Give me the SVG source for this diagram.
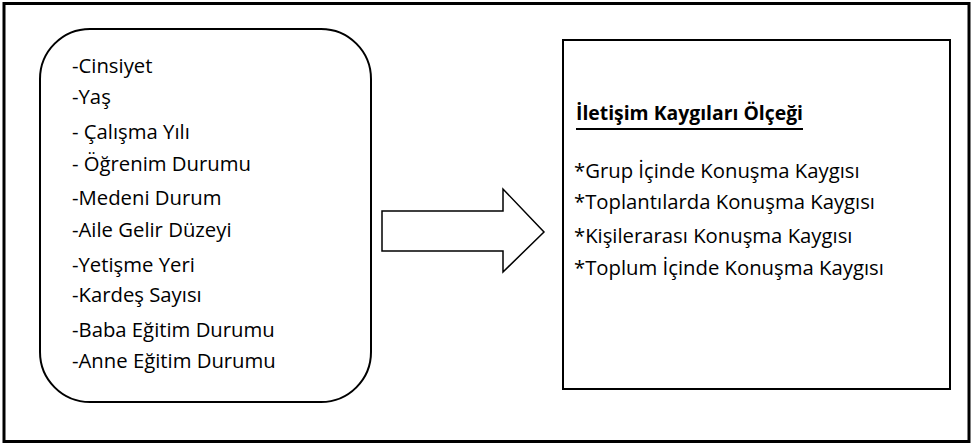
<svg xmlns="http://www.w3.org/2000/svg" width="973" height="446" viewBox="0 0 973 446">
<style>
.t{font-family:"Open Sans","Noto Sans","Liberation Sans",sans-serif;font-size:20.3px;fill:#000}
.b{font-weight:bold}
.box{fill:#fff;stroke:#000;stroke-width:2}
</style>
<rect x="0" y="0" width="973" height="446" fill="#fff"/>
<rect x="4" y="3.5" width="965" height="438" fill="none" stroke="#000" stroke-width="3"/>
<g id="demographics">
<rect class="box" x="40" y="29" width="331" height="373" rx="50" ry="50"/>
<text class="t" x="72" y="73">-Cinsiyet</text>
<text class="t" x="72" y="104">-Yaş</text>
<text class="t" x="72" y="139">- Çalışma Yılı</text>
<text class="t" x="72" y="171">- Öğrenim Durumu</text>
<text class="t" x="72" y="205">-Medeni Durum</text>
<text class="t" x="72" y="237">-Aile Gelir Düzeyi</text>
<text class="t" x="72" y="272">-Yetişme Yeri</text>
<text class="t" x="72" y="302">-Kardeş Sayısı</text>
<text class="t" x="72" y="337">-Baba Eğitim Durumu</text>
<text class="t" x="72" y="368">-Anne Eğitim Durumu</text>
</g>
<g id="connectors">
<polygon points="382,211 503,211 503,189 544,232 503,272 503,251 382,251" fill="#fff" stroke="#000" stroke-width="1.5" stroke-linejoin="miter"/>
</g>
<g id="scale">
<rect class="box" x="563" y="40" width="387" height="349"/>
<text class="t b" x="576" y="120" textLength="227" lengthAdjust="spacingAndGlyphs">İletişim Kaygıları Ölçeği</text>
<line x1="576" y1="129" x2="803" y2="129" stroke="#000" stroke-width="2"/>
<text class="t" x="574" y="178">*Grup İçinde Konuşma Kaygısı</text>
<text class="t" x="574" y="209">*Toplantılarda Konuşma Kaygısı</text>
<text class="t" x="574" y="243">*Kişilerarası Konuşma Kaygısı</text>
<text class="t" x="574" y="275">*Toplum İçinde Konuşma Kaygısı</text>
</g>
</svg>
